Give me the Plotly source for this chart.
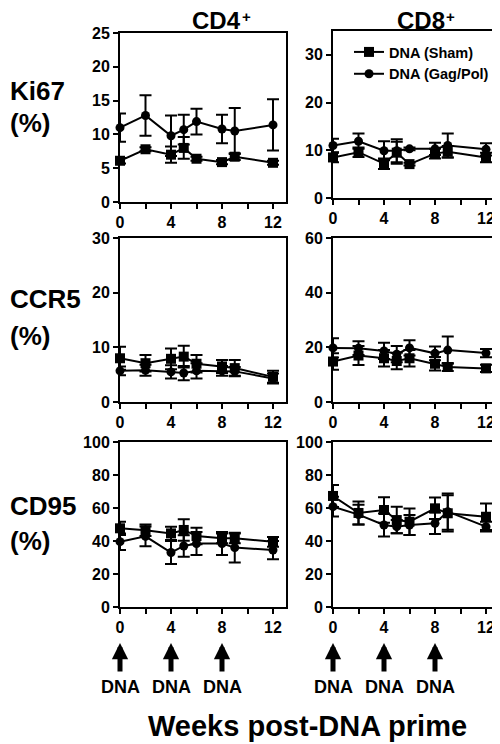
import plotly.graph_objects as go

# The page adds an 8px body margin, so the figure is drawn 8px in from the top-left.
OFF = 8
W, H = 500 - OFF, 744 - OFF
FONT = "Liberation Sans, Arial, Helvetica, sans-serif"

weeks = [0, 2, 4, 5, 6, 8, 9, 12]
x_tickvals = [0, 2, 4, 6, 8, 10, 12]
x_ticktext = ["0", "", "4", "", "8", "", "12"]
doses = [0, 4, 8]
dose_label = "DNA"

series_names = ["DNA (Sham)", "DNA (Gag/Pol)"]
col_titles = ["CD4", "CD8"]
col_sup = "+"
row_titles = ["Ki67", "CCR5", "CD95"]
x_title = "Weeks post-DNA prime"

# CD4 Ki67
cd4_ki67_sham = [6.1, 7.8, 7.0, 8.0, 6.4, 5.9, 6.7, 5.8]
cd4_ki67_sham_err = [0.4, 0.3, 1.2, 1.6, 0.3, 0.3, 0.5, 0.3]
cd4_ki67_gag = [11.0, 12.8, 9.8, 10.7, 11.9, 10.8, 10.5, 11.4]
cd4_ki67_gag_err = [2.1, 3.0, 3.0, 2.2, 1.9, 2.1, 3.4, 3.8]
# CD8 Ki67
cd8_ki67_sham = [8.5, 9.6, 7.2, 9.5, 7.1, 9.3, 9.7, 8.5]
cd8_ki67_sham_err = [1.0, 1.0, 1.1, 2.3, 0.3, 1.0, 1.2, 1.0]
cd8_ki67_gag = [11.0, 11.9, 9.9, 9.9, 10.3, 10.3, 11.0, 10.2]
cd8_ki67_gag_err = [1.4, 1.6, 2.0, 2.4, 0.3, 1.3, 2.5, 1.3]
# CD4 CCR5
cd4_ccr5_sham = [8.0, 7.1, 7.9, 8.3, 7.0, 6.5, 6.2, 4.6]
cd4_ccr5_sham_err = [2.1, 1.5, 1.9, 2.0, 1.6, 1.2, 1.5, 1.1]
cd4_ccr5_gag = [5.7, 5.8, 5.5, 5.3, 5.7, 5.7, 5.6, 4.3]
cd4_ccr5_gag_err = [0.8, 1.0, 1.2, 1.3, 1.4, 0.9, 0.8, 0.9]
# CD8 CCR5
cd8_ccr5_sham = [14.8, 17.0, 16.0, 15.0, 16.0, 14.0, 12.8, 12.3]
cd8_ccr5_sham_err = [3.0, 3.5, 3.0, 3.0, 3.0, 2.5, 1.5, 1.3]
cd8_ccr5_gag = [19.8, 19.7, 18.7, 17.5, 19.8, 17.8, 19.0, 17.9]
cd8_ccr5_gag_err = [3.5, 2.5, 3.0, 3.0, 2.8, 2.5, 5.0, 1.5]
# CD4 CD95
cd4_cd95_sham = [47.7, 46.5, 44.6, 46.7, 43.0, 41.6, 41.6, 39.5]
cd4_cd95_sham_err = [4.0, 3.5, 4.0, 6.5, 5.0, 3.0, 3.0, 3.0]
cd4_cd95_gag = [39.6, 42.8, 33.0, 37.0, 38.5, 38.5, 36.0, 34.5]
cd4_cd95_gag_err = [5.0, 6.0, 7.0, 6.5, 7.0, 7.0, 9.0, 5.5]
# CD8 CD95
cd8_cd95_sham = [67.3, 57.0, 58.8, 52.7, 51.7, 59.8, 56.8, 54.7]
cd8_cd95_sham_err = [6.7, 7.0, 7.7, 8.0, 8.0, 6.5, 11.0, 8.0]
cd8_cd95_gag = [60.8, 56.0, 49.7, 48.7, 49.7, 50.7, 57.8, 48.7]
cd8_cd95_gag_err = [6.0, 6.0, 7.0, 4.0, 6.0, 6.5, 11.0, 3.0]

panels = [
    (cd4_ki67_sham, cd4_ki67_sham_err, cd4_ki67_gag, cd4_ki67_gag_err),
    (cd8_ki67_sham, cd8_ki67_sham_err, cd8_ki67_gag, cd8_ki67_gag_err),
    (cd4_ccr5_sham, cd4_ccr5_sham_err, cd4_ccr5_gag, cd4_ccr5_gag_err),
    (cd8_ccr5_sham, cd8_ccr5_sham_err, cd8_ccr5_gag, cd8_ccr5_gag_err),
    (cd4_cd95_sham, cd4_cd95_sham_err, cd4_cd95_gag, cd4_cd95_gag_err),
    (cd8_cd95_sham, cd8_cd95_sham_err, cd8_cd95_gag, cd8_cd95_gag_err),
]
y_ranges = [[0, 25], [0, 35], [0, 30], [0, 60], [0, 100], [0, 100]]
y_dticks = [5, 10, 10, 20, 20, 20]


def fx(p):
    return (p - OFF) / W


def fy(p):
    return 1 - (p - OFF) / H


# layout geometry (window pixels)
col_px = [(120, 285.75), (333, 498.75)]
row_px = [[(33, 202), (31, 198)], [(238, 402), (238, 402)], [(442, 607), (442, 607)]]

fig = go.Figure()
symbols = ["square", "circle"]
msizes = [10, 9]

for i, (s, se, g, ge) in enumerate(panels):
    n = "" if i == 0 else str(i + 1)
    for k, (vals, errs) in enumerate([(s, se), (g, ge)]):
        fig.add_trace(go.Scatter(
            x=weeks, y=vals, xaxis="x" + n, yaxis="y" + n,
            mode="lines+markers", name=series_names[k],
            showlegend=(i == 1),
            line=dict(color="black", width=2),
            marker=dict(symbol=symbols[k], size=msizes[k], color="black"),
            error_y=dict(type="data", array=errs, color="black", thickness=2, width=6),
            cliponaxis=False,
        ))

axis_common = dict(showline=True, linecolor="black", linewidth=2, mirror=True,
                   ticks="outside", ticklen=5, tickwidth=2, tickcolor="black",
                   showgrid=False, zeroline=False, automargin=False,
                   tickfont=dict(family=FONT, size=16, color="black", weight="bold"))

layout = dict(width=W, height=H, margin=dict(l=0, r=0, t=0, b=0, pad=0, autoexpand=False),
              template="none",
              plot_bgcolor="white", paper_bgcolor="white",
              font=dict(family=FONT, color="black"))
for i in range(6):
    r, c = divmod(i, 2)
    n = "" if i == 0 else str(i + 1)
    x0, x1 = col_px[c]
    ytop, ybot = row_px[r][c]
    layout["xaxis" + n] = dict(axis_common, domain=[fx(x0), min(fx(x1), 1)], range=[0, 13],
                               tickvals=x_tickvals, ticktext=x_ticktext,
                               anchor="y" + n)
    layout["yaxis" + n] = dict(axis_common, domain=[fy(ybot), fy(ytop)],
                               range=y_ranges[i], dtick=y_dticks[i], tick0=0,
                               anchor="x" + n)
fig.update_layout(**layout)

fig.update_layout(legend=dict(x=fx(349), y=fy(36), xanchor="left", yanchor="top",
                              bgcolor="rgba(0,0,0,0)", itemwidth=30,
                              font=dict(family=FONT, size=14.5, color="black", weight="bold")))

ann = []
for c, t in enumerate(col_titles):
    rx = [243, 447][c]
    ann.append(dict(text=t, x=fx(rx), y=fy(21), xref="paper", yref="paper",
                    showarrow=False, xanchor="right", yanchor="middle",
                    font=dict(family=FONT, size=24, color="black", weight="bold")))
    ann.append(dict(text=col_sup, x=fx(rx - 3), y=fy(17), xref="paper", yref="paper",
                    showarrow=False, xanchor="left", yanchor="middle",
                    font=dict(family=FONT, size=15, color="black", weight="bold")))
row_y = [(91, 123), (299, 336), (506, 541)]
for r, t in enumerate(row_titles):
    for txt, yy in zip([t, "(%)"], row_y[r]):
        ann.append(dict(text=txt, x=0, y=fy(yy), xref="paper", yref="paper",
                        showarrow=False, xanchor="left", yanchor="middle",
                        font=dict(family=FONT, size=26, color="black", weight="bold")))
for xr in ["x5", "x6"]:
    for d in doses:
        ann.append(dict(text="", x=d, y=fy(643), xref=xr, yref="paper",
                        showarrow=True, ax=0, ay=30, arrowhead=2, arrowsize=0.65,
                        arrowwidth=5, arrowcolor="black", standoff=0))
        ann.append(dict(text=dose_label, x=d, y=fy(687), xref=xr, yref="paper",
                        showarrow=False, xanchor="center", yanchor="middle",
                        font=dict(family=FONT, size=18, color="black", weight="bold")))
ann.append(dict(text=x_title, x=fx(307), y=fy(726), xref="paper", yref="paper",
                showarrow=False, xanchor="center", yanchor="middle",
                font=dict(family=FONT, size=29, color="black", weight="bold")))
fig.update_layout(annotations=ann)

fig.write_html("out.html")
